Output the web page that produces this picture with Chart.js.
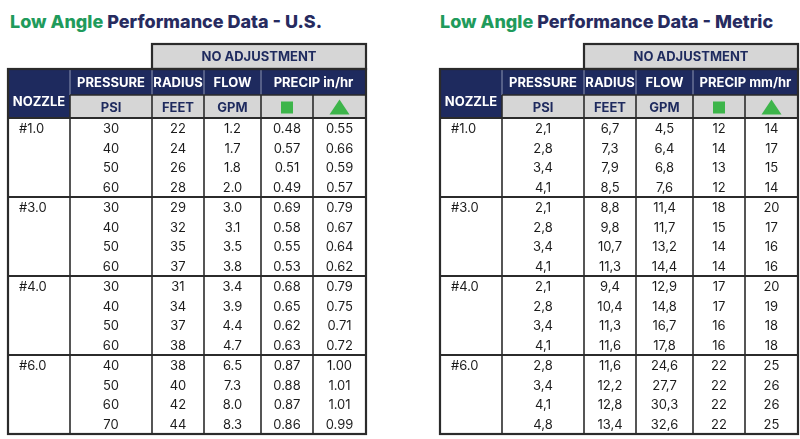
<!DOCTYPE html>
<html>
<head>
<meta charset="utf-8">
<script src="https://cdn.jsdelivr.net/npm/chart.js@4.4.1/dist/chart.umd.min.js"></script>
<style>
  html, body { margin: 0; padding: 0; background: #fff; }
  #wrap { position: relative; width: 800px; height: 439px; overflow: hidden; }
  .title { position: absolute; top: 11px; font: 800 18px Inter, sans-serif; color: #272b5f; white-space: nowrap; }
  .title span { color: #1f9b5c; }
  .box { position: absolute; top: 0; width: 400px; height: 439px; }
</style>
</head>
<body>
<div id="wrap">
  <div class="title" style="left:10px"><span>Low Angle</span> Performance Data - U.S.</div>
  <div class="title" style="left:440px"><span>Low Angle</span> Performance Data - Metric</div>
  <div class="box" style="left:0"><canvas id="us" width="400" height="439"></canvas></div>
  <div class="box" style="left:400px"><canvas id="metric" width="400" height="439"></canvas></div>
</div>
<script>
/* =========================
   DATA
   ========================= */

const nozzles = ["#1.0", "#3.0", "#4.0", "#6.0"];
const usHeaders = ["PRESSURE", "RADIUS", "FLOW", "PRECIP in/hr"];
const metricHeaders = ["PRESSURE", "RADIUS", "FLOW", "PRECIP mm/hr"];
const unitLabels = ["PSI", "FEET", "GPM"];
const groupTitle = "NO ADJUSTMENT";

const usPressure = [30, 40, 50, 60, 30, 40, 50, 60, 30, 40, 50, 60, 40, 50, 60, 70];
const usRadius = [22, 24, 26, 28, 29, 32, 35, 37, 31, 34, 37, 38, 38, 40, 42, 44];
const usFlow = [1.2, 1.7, 1.8, 2.0, 3.0, 3.1, 3.5, 3.8, 3.4, 3.9, 4.4, 4.7, 6.5, 7.3, 8.0, 8.3];
const usPrecipSquare = [0.48, 0.57, 0.51, 0.49, 0.69, 0.58, 0.55, 0.53, 0.68, 0.65, 0.62, 0.63, 0.87, 0.88, 0.87, 0.86];
const usPrecipTriangle = [0.55, 0.66, 0.59, 0.57, 0.79, 0.67, 0.64, 0.62, 0.79, 0.75, 0.71, 0.72, 1.00, 1.01, 1.01, 0.99];

const mPressure = [2.1, 2.8, 3.4, 4.1, 2.1, 2.8, 3.4, 4.1, 2.1, 2.8, 3.4, 4.1, 2.8, 3.4, 4.1, 4.8];
const mRadius = [6.7, 7.3, 7.9, 8.5, 8.8, 9.8, 10.7, 11.3, 9.4, 10.4, 11.3, 11.6, 11.6, 12.2, 12.8, 13.4];
const mFlow = [4.5, 6.4, 6.8, 7.6, 11.4, 11.7, 13.2, 14.4, 12.9, 14.8, 16.7, 17.8, 24.6, 27.7, 30.3, 32.6];
const mPrecipSquare = [12, 14, 13, 12, 18, 15, 14, 14, 17, 17, 16, 16, 22, 22, 22, 22];
const mPrecipTriangle = [14, 17, 15, 14, 20, 17, 16, 16, 20, 19, 18, 18, 25, 26, 26, 25];

/* =========================
   LAYOUT / STYLE
   ========================= */

const NAVY = "#1e2a5e";
const GRAY = "#d6d6d6";
const LINE = "#2b2b2b";
const GREEN = "#3db54a";
const TEXT = "#1c1c1c";
const FONT = "Inter, sans-serif";

const colWidths = [62, 82, 52, 57, 52, 53];
const colEdges = colWidths.reduce((a, w) => { a.push(a[a.length - 1] + w); return a; }, [0]);
const headBands = [25, 26, 23]; // group title, header row, unit row

const fmtInt = v => String(v);
const fmtDot1 = v => v.toFixed(1);
const fmtDot2 = v => v.toFixed(2);
const fmtComma1 = v => v.toFixed(1).replace(".", ",");

function column(values, col, fmt) {
  const cx = (colEdges[col] + colEdges[col + 1]) / 2;
  return {
    data: values.map((v, i) => ({ x: cx, y: i + 0.5 })),
    texts: values.map(fmt),
    align: "center",
    pointRadius: 0
  };
}

function nozzleColumn() {
  return {
    data: nozzles.map((n, g) => ({ x: colEdges[0] + 11, y: g * 4 + 0.5 })),
    texts: nozzles,
    align: "left",
    pointRadius: 0
  };
}

/* =========================
   TABLE PLUGIN
   ========================= */

const tablePlugin = {
  id: "table",
  beforeDatasetsDraw(chart) {
    const { ctx, scales: { x, y } } = chart;
    const headers = chart.options.plugins.table.headers;
    const X = i => x.getPixelForValue(colEdges[i]);
    const top = y.getPixelForValue(0);
    const r2 = top - headBands[2];
    const r1 = r2 - headBands[1];
    const r0 = r1 - headBands[0];
    const mid = (a, b) => (a + b) / 2;

    ctx.save();
    // fills
    ctx.fillStyle = GRAY;
    ctx.fillRect(X(2), r0, X(6) - X(2), r1 - r0);
    ctx.fillRect(X(1), r2, X(6) - X(1), top - r2);
    ctx.fillStyle = NAVY;
    ctx.fillRect(X(0), r1, X(6) - X(0), r2 - r1);
    ctx.fillRect(X(0), r2, X(1) - X(0), top - r2);

    // header texts
    ctx.textBaseline = "middle";
    ctx.textAlign = "center";
    ctx.font = "700 13px " + FONT;
    ctx.fillStyle = NAVY;
    ctx.fillText(groupTitle, mid(X(2), X(6)), mid(r0, r1) + 1);

    ctx.fillStyle = "#fff";
    for (let i = 0; i < 3; i++) ctx.fillText(headers[i], mid(X(i + 1), X(i + 2)), mid(r1, r2) + 1);
    ctx.fillText(headers[3], mid(X(4), X(6)), mid(r1, r2) + 1);
    ctx.fillText("NOZZLE", mid(X(0), X(1)), top - 16);

    ctx.fillStyle = NAVY;
    for (let i = 0; i < 3; i++) ctx.fillText(unitLabels[i], mid(X(i + 1), X(i + 2)), mid(r2, top) + 2);

    // legend marks
    const sq = 12;
    const cy = mid(r2, top) + 1;
    ctx.fillStyle = GREEN;
    ctx.fillRect(mid(X(4), X(5)) - sq / 2, cy - sq / 2, sq, sq);
    const tx = mid(X(5), X(6));
    ctx.beginPath();
    ctx.moveTo(tx, cy - 8);
    ctx.lineTo(tx + 10, cy + 7);
    ctx.lineTo(tx - 10, cy + 7);
    ctx.closePath();
    ctx.fill();
    ctx.restore();
  },
  afterDatasetsDraw(chart) {
    const { ctx, scales: { x, y } } = chart;
    const X = i => x.getPixelForValue(colEdges[i]);
    const Y = r => y.getPixelForValue(r);
    const top = Y(0), bottom = Y(16);
    const r2 = top - headBands[2];
    const r1 = r2 - headBands[1];
    const r0 = r1 - headBands[0];

    ctx.save();
    // cell texts, placed by the scales
    ctx.font = "400 13px " + FONT;
    ctx.fillStyle = TEXT;
    ctx.textBaseline = "middle";
    chart.data.datasets.forEach((ds, di) => {
      ctx.textAlign = ds.align;
      chart.getDatasetMeta(di).data.forEach((pt, i) => {
        ctx.fillText(ds.texts[i], pt.x, pt.y + 1);
      });
    });

    // light separators inside navy header row
    ctx.strokeStyle = "rgba(190,195,215,0.7)";
    ctx.lineWidth = 1;
    [1, 2, 3, 4].forEach(i => {
      ctx.beginPath(); ctx.moveTo(X(i), r1); ctx.lineTo(X(i), r2); ctx.stroke();
    });

    // dark grid
    ctx.strokeStyle = LINE;
    ctx.lineWidth = 1.6;
    [1, 2, 3, 4, 5].forEach(i => {
      ctx.beginPath(); ctx.moveTo(X(i), r2); ctx.lineTo(X(i), bottom); ctx.stroke();
    });
    ctx.beginPath(); ctx.moveTo(X(1), r2); ctx.lineTo(X(6), r2); ctx.stroke();

    ctx.lineWidth = 2.2;
    [0, 4, 8, 12].forEach(r => {
      ctx.beginPath(); ctx.moveTo(X(0), Y(r)); ctx.lineTo(X(6), Y(r)); ctx.stroke();
    });
    ctx.strokeRect(X(0), r1, X(6) - X(0), bottom - r1);
    ctx.strokeRect(X(2), r0, X(6) - X(2), r1 - r0);
    ctx.restore();
  }
};

/* =========================
   BUILD
   ========================= */

function makeTable(id, headers, padLeft, padRight, cols) {
  return new Chart(document.getElementById(id), {
    type: "scatter",
    data: { datasets: cols },
    options: {
      responsive: false,
      animation: false,
      devicePixelRatio: 1,
      layout: { padding: { left: padLeft, right: padRight, top: 118, bottom: 5 } },
      scales: {
        x: { type: "linear", min: 0, max: colEdges[colEdges.length - 1], display: false },
        y: { type: "linear", min: 0, max: 16, reverse: true, display: false }
      },
      plugins: {
        legend: { display: false },
        tooltip: { enabled: false },
        table: { headers }
      }
    },
    plugins: [tablePlugin]
  });
}

makeTable("us", usHeaders, 8, 34, [
  nozzleColumn(),
  column(usPressure, 1, fmtInt),
  column(usRadius, 2, fmtInt),
  column(usFlow, 3, fmtDot1),
  column(usPrecipSquare, 4, fmtDot2),
  column(usPrecipTriangle, 5, fmtDot2)
]);

makeTable("metric", metricHeaders, 40, 2, [
  nozzleColumn(),
  column(mPressure, 1, fmtComma1),
  column(mRadius, 2, fmtComma1),
  column(mFlow, 3, fmtComma1),
  column(mPrecipSquare, 4, fmtInt),
  column(mPrecipTriangle, 5, fmtInt)
]);
</script>
</body>
</html>
